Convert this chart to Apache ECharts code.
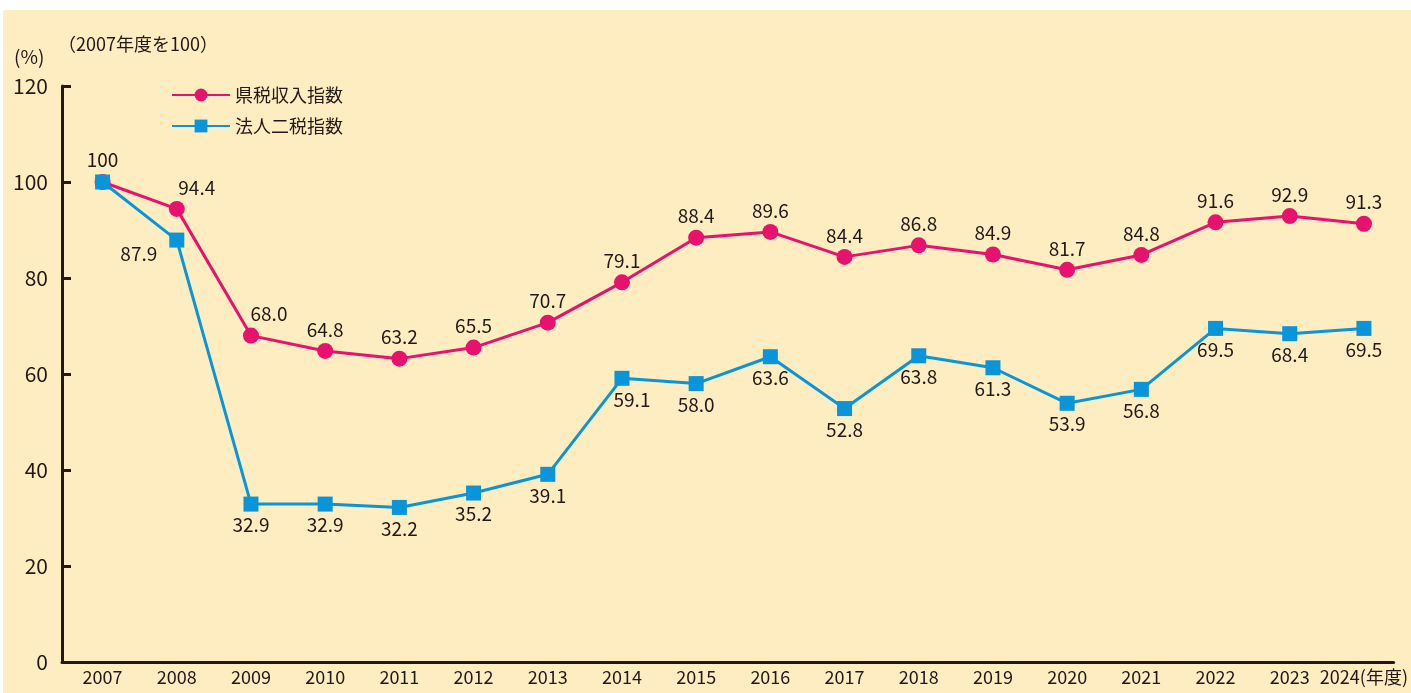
<!DOCTYPE html>
<html>
<head>
<meta charset="utf-8">
<script src="https://cdn.jsdelivr.net/npm/echarts@6/dist/echarts.min.js"></script>
<style>
html,body{margin:0;padding:0;background:#ffffff;}
#chart{position:absolute;left:3px;top:10px;width:1408px;height:683px;background:#FDEDC0;}
</style>
</head>
<body>
<div id="chart"></div>
<script>
const years = [2007,2008,2009,2010,2011,2012,2013,2014,2015,2016,2017,2018,2019,2020,2021,2022,2023,2024];
const prefTaxIndex = [100,94.4,68.0,64.8,63.2,65.5,70.7,79.1,88.4,89.6,84.4,86.8,84.9,81.7,84.8,91.6,92.9,91.3];
const corpTaxIndex = [100,87.9,32.9,32.9,32.2,35.2,39.1,59.1,58.0,63.6,52.8,63.8,61.3,53.9,56.8,69.5,68.4,69.5];
const yTicks = [0,20,40,60,80,100,120];
const seriesNames = ['県税収入指数','法人二税指数'];

const RED = '#E6126E';
const BLUE = '#0A94D9';
const INK = '#231815';
const FONT = '"Noto Sans CJK JP","Noto Sans",sans-serif';

function fmt(v){ return v === 100 ? '100' : v.toFixed(1); }

const redData = years.map((y,i)=>{
  const d = {value:[y, prefTaxIndex[i]]};
  if (i === 0) d.label = {show:false};
  if (i === 1) d.label = {offset:[20,0]};
  if (i === 2) d.label = {offset:[18,0]};
  return d;
});
const blueData = years.map((y,i)=>{
  const d = {value:[y, corpTaxIndex[i]]};
  if (i === 0) d.label = {position:'top', distance:5};
  if (i === 1) d.label = {position:'left', distance:12, offset:[0,14]};
  if (i === 7) d.label = {offset:[10,0]};
  return d;
});

const chart = echarts.init(document.getElementById('chart'));
chart.setOption({
  animation:false,
  backgroundColor:'transparent',
  textStyle:{fontFamily:FONT},
  grid:{left:59, right:13, top:76, bottom:31, containLabel:false},
  xAxis:{
    type:'value', min:2006.453, max:2024.4,
    axisLine:{show:true, lineStyle:{color:INK, width:3}},
    axisTick:{show:false},
    splitLine:{show:false},
    axisLabel:{
      customValues: years,
      color:INK, fontSize:18, fontFamily:FONT, margin:6,
      formatter:(v)=> v === 2024 ? '2024(年度)' : String(v)
    }
  },
  yAxis:{
    type:'value', min:0, max:120, interval:20,
    axisLine:{show:true, lineStyle:{color:INK, width:3}},
    axisTick:{show:true, inside:true, length:9, lineStyle:{color:INK, width:3}},
    splitLine:{show:false},
    axisLabel:{
      customValues: yTicks,
      color:INK, fontSize:21, fontFamily:FONT, margin:14
    }
  },
  legend:{
    orient:'vertical', left:163, top:71,
    itemWidth:58, itemHeight:16, itemGap:13,
    textStyle:{color:INK, fontSize:18, fontFamily:FONT},
    data:seriesNames
  },
  graphic:[
    {type:'text', left:11, top:37, style:{text:'(%)', fill:INK, fontSize:19, fontFamily:FONT}},
    {type:'text', left:55, top:25, style:{text:'（2007年度を100）', fill:INK, fontSize:18, fontFamily:FONT}}
  ],
  series:[
    {
      name:seriesNames[0], type:'line', data:redData,
      symbol:'circle', symbolSize:16,
      lineStyle:{color:RED, width:3}, itemStyle:{color:RED},
      label:{show:true, position:'top', distance:4, color:INK, fontSize:19, fontFamily:FONT,
        formatter:(p)=>fmt(p.value[1])},
      z:2
    },
    {
      name:seriesNames[1], type:'line', data:blueData,
      symbol:'rect', symbolSize:15,
      lineStyle:{color:BLUE, width:3}, itemStyle:{color:BLUE},
      label:{show:true, position:'bottom', distance:4, color:INK, fontSize:19, fontFamily:FONT,
        formatter:(p)=>fmt(p.value[1])},
      z:3
    }
  ]
});
</script>
</body>
</html>
